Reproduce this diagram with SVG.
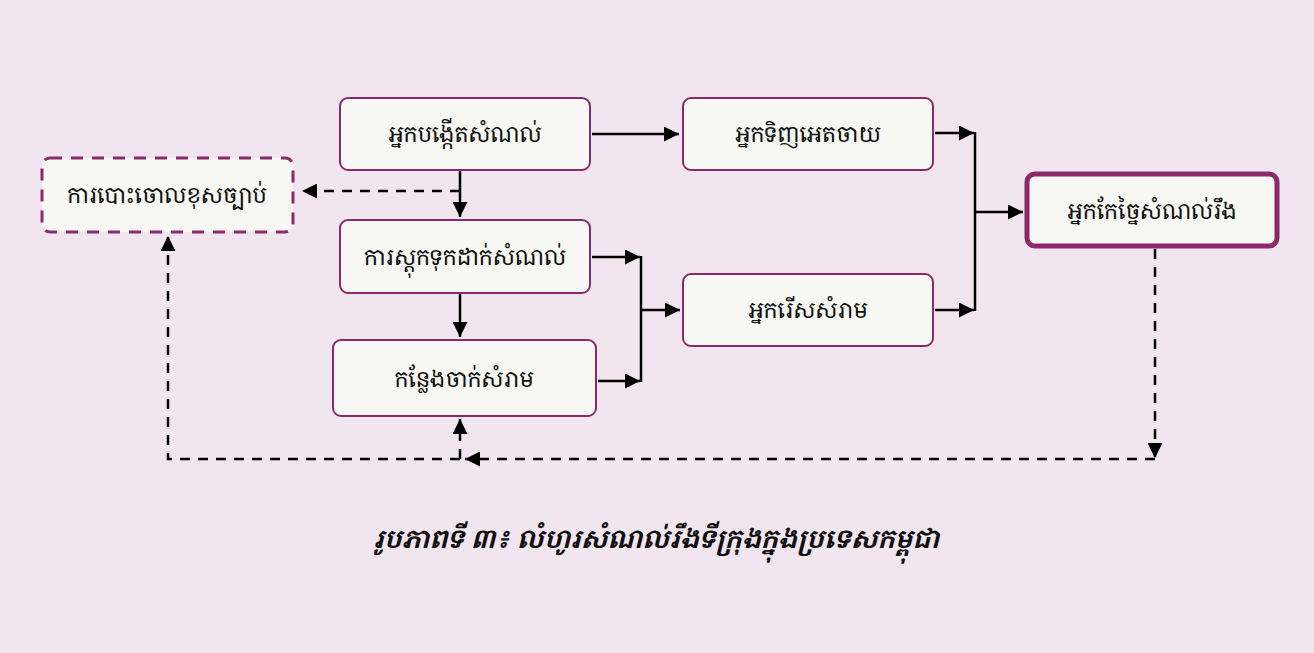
<svg xmlns="http://www.w3.org/2000/svg" width="1314" height="653" viewBox="0 0 1314 653">
<defs>
<style>
.node rect{fill:#f7f8f4;stroke:#8b2a6b;stroke-width:2}
.node text,.cap{font-family:"Khmer OS Content","Khmer OS","Noto Serif Khmer","Noto Sans Khmer","Noto Sans",sans-serif;fill:#111;text-anchor:middle;dominant-baseline:central}
.node text{font-size:22px}
.cap{font-size:25.5px;font-style:italic;font-weight:bold}
.ln{fill:none;stroke:#000;stroke-width:2.5}
.ds{fill:none;stroke:#000;stroke-width:2.5;stroke-dasharray:10 8}
</style>
<marker id="ar" viewBox="0 0 10 10" refX="10" refY="5" markerWidth="20" markerHeight="15" markerUnits="userSpaceOnUse" orient="auto">
<path d="M0,0 L10,5 L0,10 Z" fill="#000"/>
</marker>
</defs>
<rect x="0" y="0" width="1314" height="653" fill="#f1e6ef"/>
<g id="connectors">
<line class="ln" x1="592" y1="134" x2="679" y2="134" marker-end="url(#ar)"/>
<line class="ln" x1="460" y1="170" x2="460" y2="217" marker-end="url(#ar)"/>
<line class="ds" x1="460" y1="191" x2="302" y2="191" marker-end="url(#ar)"/>
<line class="ln" x1="460" y1="293" x2="460" y2="337" marker-end="url(#ar)"/>
<line class="ln" x1="592" y1="257" x2="640" y2="257" marker-end="url(#ar)"/>
<line class="ln" x1="598" y1="381" x2="640" y2="381" marker-end="url(#ar)"/>
<line class="ln" x1="641" y1="256" x2="641" y2="382"/>
<line class="ln" x1="641" y1="310" x2="680" y2="310" marker-end="url(#ar)"/>
<line class="ln" x1="935" y1="133" x2="974" y2="133" marker-end="url(#ar)"/>
<line class="ln" x1="935" y1="310" x2="974" y2="310" marker-end="url(#ar)"/>
<line class="ln" x1="975" y1="132" x2="975" y2="311"/>
<line class="ln" x1="975" y1="212" x2="1023" y2="212" marker-end="url(#ar)"/>
<line class="ds" x1="1155" y1="249" x2="1155" y2="458" marker-end="url(#ar)"/>
<line class="ds" x1="1155" y1="459" x2="465" y2="459" marker-end="url(#ar)"/>
<line class="ds" x1="460" y1="459" x2="460" y2="419" marker-end="url(#ar)"/>
<polyline class="ds" points="460,459 168,459 168,236" marker-end="url(#ar)"/>
</g>
<g id="n-generator" class="node"><rect x="340" y="98" width="250" height="72" rx="8"/><text x="465" y="133">អ្នកបង្កើតសំណល់</text></g>
<g id="n-buyer" class="node"><rect x="683" y="98" width="250" height="72" rx="8"/><text x="808" y="133">អ្នកទិញអេតចាយ</text></g>
<g id="n-illegal" class="node"><rect x="42" y="158" width="251" height="74" rx="8" style="stroke-width:3;stroke-dasharray:12 9"/><text x="167" y="194">ការបោះចោលខុសច្បាប់</text></g>
<g id="n-storage" class="node"><rect x="340" y="220" width="250" height="73" rx="8"/><text x="465" y="256">ការស្តុកទុកដាក់សំណល់</text></g>
<g id="n-landfill" class="node"><rect x="333" y="340" width="263" height="76" rx="8"/><text x="464" y="378">កន្លែងចាក់សំរាម</text></g>
<g id="n-picker" class="node"><rect x="683" y="274" width="250" height="72" rx="8"/><text x="808" y="309">អ្នករើសសំរាម</text></g>
<g id="n-recycler" class="node"><rect x="1027" y="174" width="250" height="72" rx="8" style="stroke-width:5"/><text x="1152" y="210">អ្នកកែច្នៃសំណល់រឹង</text></g>
<text class="cap" x="656" y="538">រូបភាពទី ៣៖ លំហូរសំណល់រឹងទីក្រុងក្នុងប្រទេសកម្ពុជា</text>
</svg>
